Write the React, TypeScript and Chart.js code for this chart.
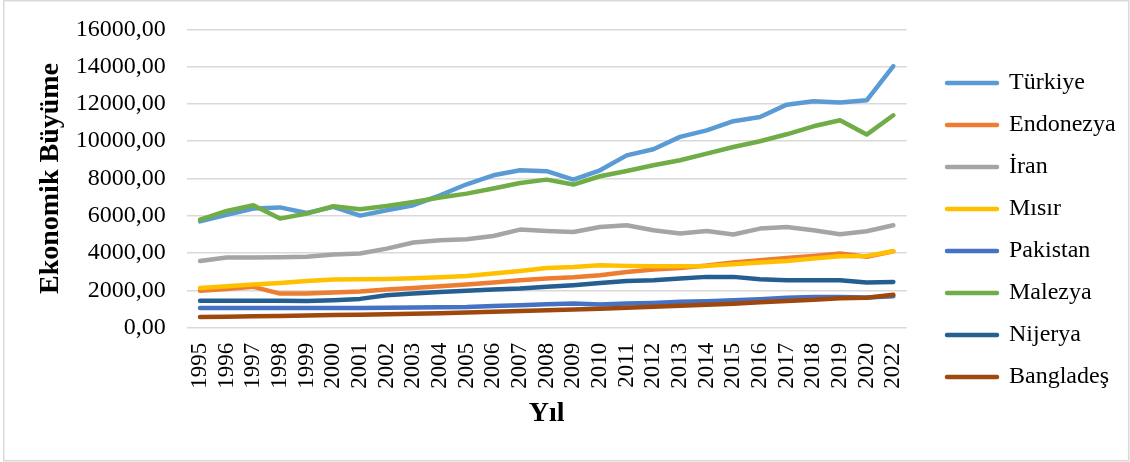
import React, { useEffect, useRef } from "react";
import { Chart, registerables } from "chart.js";

Chart.register(...registerables);

const years = [
  "1995", "1996", "1997", "1998", "1999", "2000", "2001", "2002", "2003", "2004",
  "2005", "2006", "2007", "2008", "2009", "2010", "2011", "2012", "2013", "2014",
  "2015", "2016", "2017", "2018", "2019", "2020", "2022",
];

const turkiye = [5700, 6050, 6390, 6450, 6150, 6480, 6010, 6300, 6570, 7100, 7690, 8170, 8440, 8390, 7940, 8440, 9240, 9570, 10230, 10580, 11070, 11300, 11960, 12140, 12070, 12190, 14020];
const endonezya = [1975, 2080, 2190, 1830, 1830, 1885, 1940, 2050, 2135, 2225, 2315, 2420, 2545, 2635, 2700, 2815, 2990, 3120, 3205, 3330, 3495, 3615, 3740, 3850, 3975, 3800, 4100];
const iran = [3580, 3760, 3760, 3780, 3800, 3920, 3975, 4240, 4565, 4690, 4745, 4920, 5260, 5190, 5135, 5400, 5490, 5225, 5050, 5190, 5000, 5315, 5400, 5225, 5010, 5170, 5490];
const misir = [2135, 2225, 2315, 2400, 2510, 2580, 2600, 2615, 2650, 2705, 2775, 2900, 3045, 3205, 3260, 3350, 3315, 3295, 3295, 3315, 3400, 3495, 3580, 3710, 3830, 3850, 4100];
const pakistan = [1060, 1060, 1055, 1050, 1050, 1055, 1060, 1070, 1080, 1100, 1115, 1170, 1205, 1260, 1295, 1245, 1295, 1330, 1385, 1420, 1475, 1530, 1600, 1650, 1650, 1620, 1690];
const malezya = [5800, 6260, 6565, 5850, 6120, 6510, 6350, 6530, 6740, 6980, 7190, 7460, 7760, 7940, 7675, 8120, 8400, 8710, 8980, 9335, 9690, 10000, 10370, 10800, 11120, 10355, 11390];
const nijerya = [1440, 1440, 1440, 1440, 1430, 1475, 1545, 1740, 1830, 1920, 1975, 2050, 2100, 2190, 2280, 2400, 2510, 2545, 2635, 2725, 2725, 2600, 2545, 2545, 2545, 2420, 2455];
const banglades = [580, 590, 610, 630, 650, 680, 700, 720, 750, 780, 820, 860, 900, 940, 980, 1020, 1070, 1120, 1180, 1230, 1290, 1360, 1430, 1500, 1580, 1610, 1770];

const seriesNames = ["Türkiye", "Endonezya", "İran", "Mısır", "Pakistan", "Malezya", "Nijerya", "Bangladeş"];
const seriesData = [turkiye, endonezya, iran, misir, pakistan, malezya, nijerya, banglades];
const seriesColors = ["#5B9BD5", "#ED7D31", "#A5A5A5", "#FFC000", "#4472C4", "#70AD47", "#255E91", "#9E480E"];

const yTicks = { min: 0, max: 16000, step: 2000 };
const yTitle = "Ekonomik Büyüme";
const xTitle = "Yıl";

const FONT = "'Liberation Serif', 'Times New Roman', serif";

export default function App() {
  const ref = useRef<HTMLCanvasElement | null>(null);

  useEffect(() => {
    if (!ref.current) return;
    const n = seriesNames.length;
    const datasets = seriesNames.map((name, i) => ({
      label: name,
      data: seriesData[i],
      borderColor: seriesColors[i],
      backgroundColor: seriesColors[i],
      borderWidth: 4.5,
      borderCapStyle: "round" as const,
      borderJoinStyle: "round" as const,
      pointRadius: 0,
      pointHoverRadius: 0,
      tension: 0,
      fill: false,
      order: n - 1 - i,
    }));

    const framePlugin = {
      id: "frame",
      beforeDraw(chart: any) {
        const ctx = chart.ctx;
        ctx.save();
        ctx.fillStyle = "#ffffff";
        ctx.fillRect(0, 0, chart.width, chart.height);
        ctx.strokeStyle = "#d9d9d9";
        ctx.lineWidth = 1.5;
        ctx.strokeRect(3.75, 0.75, 1125, 460);
        ctx.restore();
      },
    };

    const LEGEND_PAD = 18;
    const legendShift = {
      id: "legendShift",
      afterLayout(chart: any) {
        const lg = chart.legend;
        if (!lg) return;
        const dx = 947 - LEGEND_PAD - lg.left;
        lg.left += dx;
        lg.right += dx;
      },
    };

    const chart = new Chart(ref.current, {
      type: "line",
      data: { labels: years, datasets },
      plugins: [framePlugin, legendShift],
      options: {
        responsive: false,
        animation: false,
        devicePixelRatio: 1,
        layout: { padding: { top: 29.3, bottom: 31.2, left: 34.2, right: 26.7 } },
        plugins: {
          tooltip: { enabled: false },
          title: { display: false },
          legend: {
            position: "right",
            align: "center",
            labels: {
              usePointStyle: true,
              pointStyleWidth: 50,
              padding: LEGEND_PAD,
              color: "#000",
              font: { family: FONT, size: 24 },
              generateLabels: (c: any) =>
                c.data.datasets.map((ds: any, i: number) => ({
                  text: ds.label,
                  fillStyle: ds.borderColor,
                  strokeStyle: ds.borderColor,
                  lineWidth: 4.5,
                  lineCap: "round",
                  pointStyle: "line",
                  hidden: false,
                  datasetIndex: i,
                  fontColor: "#000",
                })),
            },
          },
        },
        scales: {
          x: {
            type: "category",
            offset: true,
            grid: { display: false, drawTicks: false },
            border: { display: false },
            ticks: {
              autoSkip: false,
              maxRotation: 90,
              minRotation: 90,
              padding: 15,
              color: "#000",
              font: { family: FONT, size: 23 },
            },
            title: {
              display: true,
              text: xTitle,
              color: "#000",
              padding: 0,
              font: { family: FONT, size: 28, weight: "bold" },
            },
            afterFit: (scale: any) => {
              scale.height = 103.1;
            },
          },
          y: {
            min: yTicks.min,
            max: yTicks.max,
            grid: { color: "#d9d9d9", lineWidth: 1.5, drawTicks: false },
            border: { display: false },
            ticks: {
              stepSize: yTicks.step,
              padding: 21,
              color: "#000",
              font: { family: FONT, size: 24 },
              callback: (v: any) => Number(v).toFixed(2).replace(".", ","),
            },
            title: {
              display: true,
              text: yTitle,
              color: "#000",
              padding: 0,
              font: { family: FONT, size: 28, weight: "bold" },
            },
            afterFit: (scale: any) => {
              scale.width = 152.5;
              scale.paddingTop = 14;
              scale.paddingBottom = 14;
            },
          },
        },
      },
    });
    return () => chart.destroy();
  }, []);

  return (
    <div style={{ position: "absolute", left: 0, top: 0, width: 1130, height: 462 }}>
      <canvas ref={ref} width={1130} height={462} style={{ width: 1130, height: 462, display: "block" }} />
    </div>
  );
}
